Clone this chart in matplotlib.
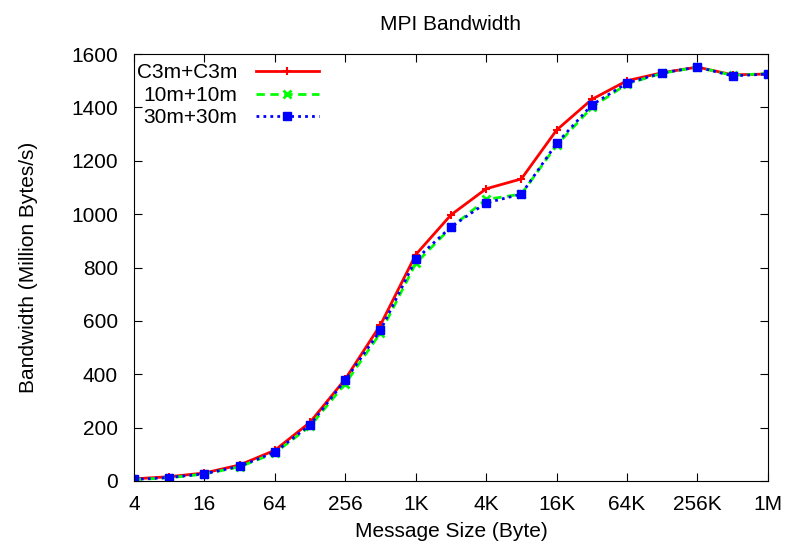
import matplotlib
matplotlib.use('Agg')
import matplotlib.pyplot as plt

plt.rcParams['font.family'] = ['Liberation Sans', 'DejaVu Sans']

sizes = [4, 8, 16, 32, 64, 128, 256, 512, 1024, 2048, 4096, 8192, 16384,
         32768, 65536, 131072, 262144, 524288, 1048576]

c3m = [8, 16, 30, 60, 115, 220, 382, 585, 848, 997, 1095, 1132, 1315,
       1430, 1500, 1530, 1551, 1522, 1525]
m10 = [5, 12, 26, 53, 105, 205, 365, 555, 815, 950, 1055, 1075, 1258,
       1400, 1488, 1528, 1551, 1520, 1527]
m30 = [6, 13, 27, 55, 108, 210, 378, 565, 830, 952, 1042, 1075, 1265,
       1409, 1491, 1529, 1551, 1518, 1525]

xticks = [4, 16, 64, 256, 1024, 4096, 16384, 65536, 262144, 1048576]
xticklabels = ['4', '16', '64', '256', '1K', '4K', '16K', '64K', '256K', '1M']

fig = plt.figure(figsize=(7.9, 5.49), dpi=100)
ax = fig.add_axes([0.1696, 0.1239, 0.8024, 0.7777])

ax.plot(sizes, c3m, color='#ff0000', lw=2, marker='+', ms=6, mew=1.5, label='C3m+C3m')
ax.plot(sizes, m10, color='#00ff00', lw=2, ls=(0, (3, 2)), marker='x', ms=6, mew=2, label='10m+10m')
ax.plot(sizes, m30, color='#0000ff', lw=2, ls=(0, (1, 1.5)), marker='s', ms=5.5, mew=1,
        label='30m+30m')

ax.set_xscale('log', base=2)
ax.set_xlim(4, 1048576)
ax.set_ylim(0, 1600)
ax.set_xticks(xticks)
ax.set_xticklabels(xticklabels)
ax.minorticks_off()
ax.set_yticks(range(0, 1601, 200))
ax.tick_params(direction='in', top=True, right=True, labelsize=15, length=6)
ax.tick_params(axis='x', pad=10)
ax.tick_params(axis='y', pad=11.5)

ax.set_title('MPI Bandwidth', fontsize=15, pad=17)
ax.set_xlabel('Message Size (Byte)', fontsize=15, labelpad=6)
ax.set_ylabel('Bandwidth (Million Bytes/s)', fontsize=15, labelpad=24)

leg = ax.legend(loc='upper left', frameon=False, markerfirst=False, fontsize=15,
                handlelength=3.0, borderaxespad=0.0, labelspacing=0.17,
                handletextpad=0.9, borderpad=0.45, bbox_to_anchor=(-0.01, 1.0))

fig.savefig('out.png', dpi=100)
